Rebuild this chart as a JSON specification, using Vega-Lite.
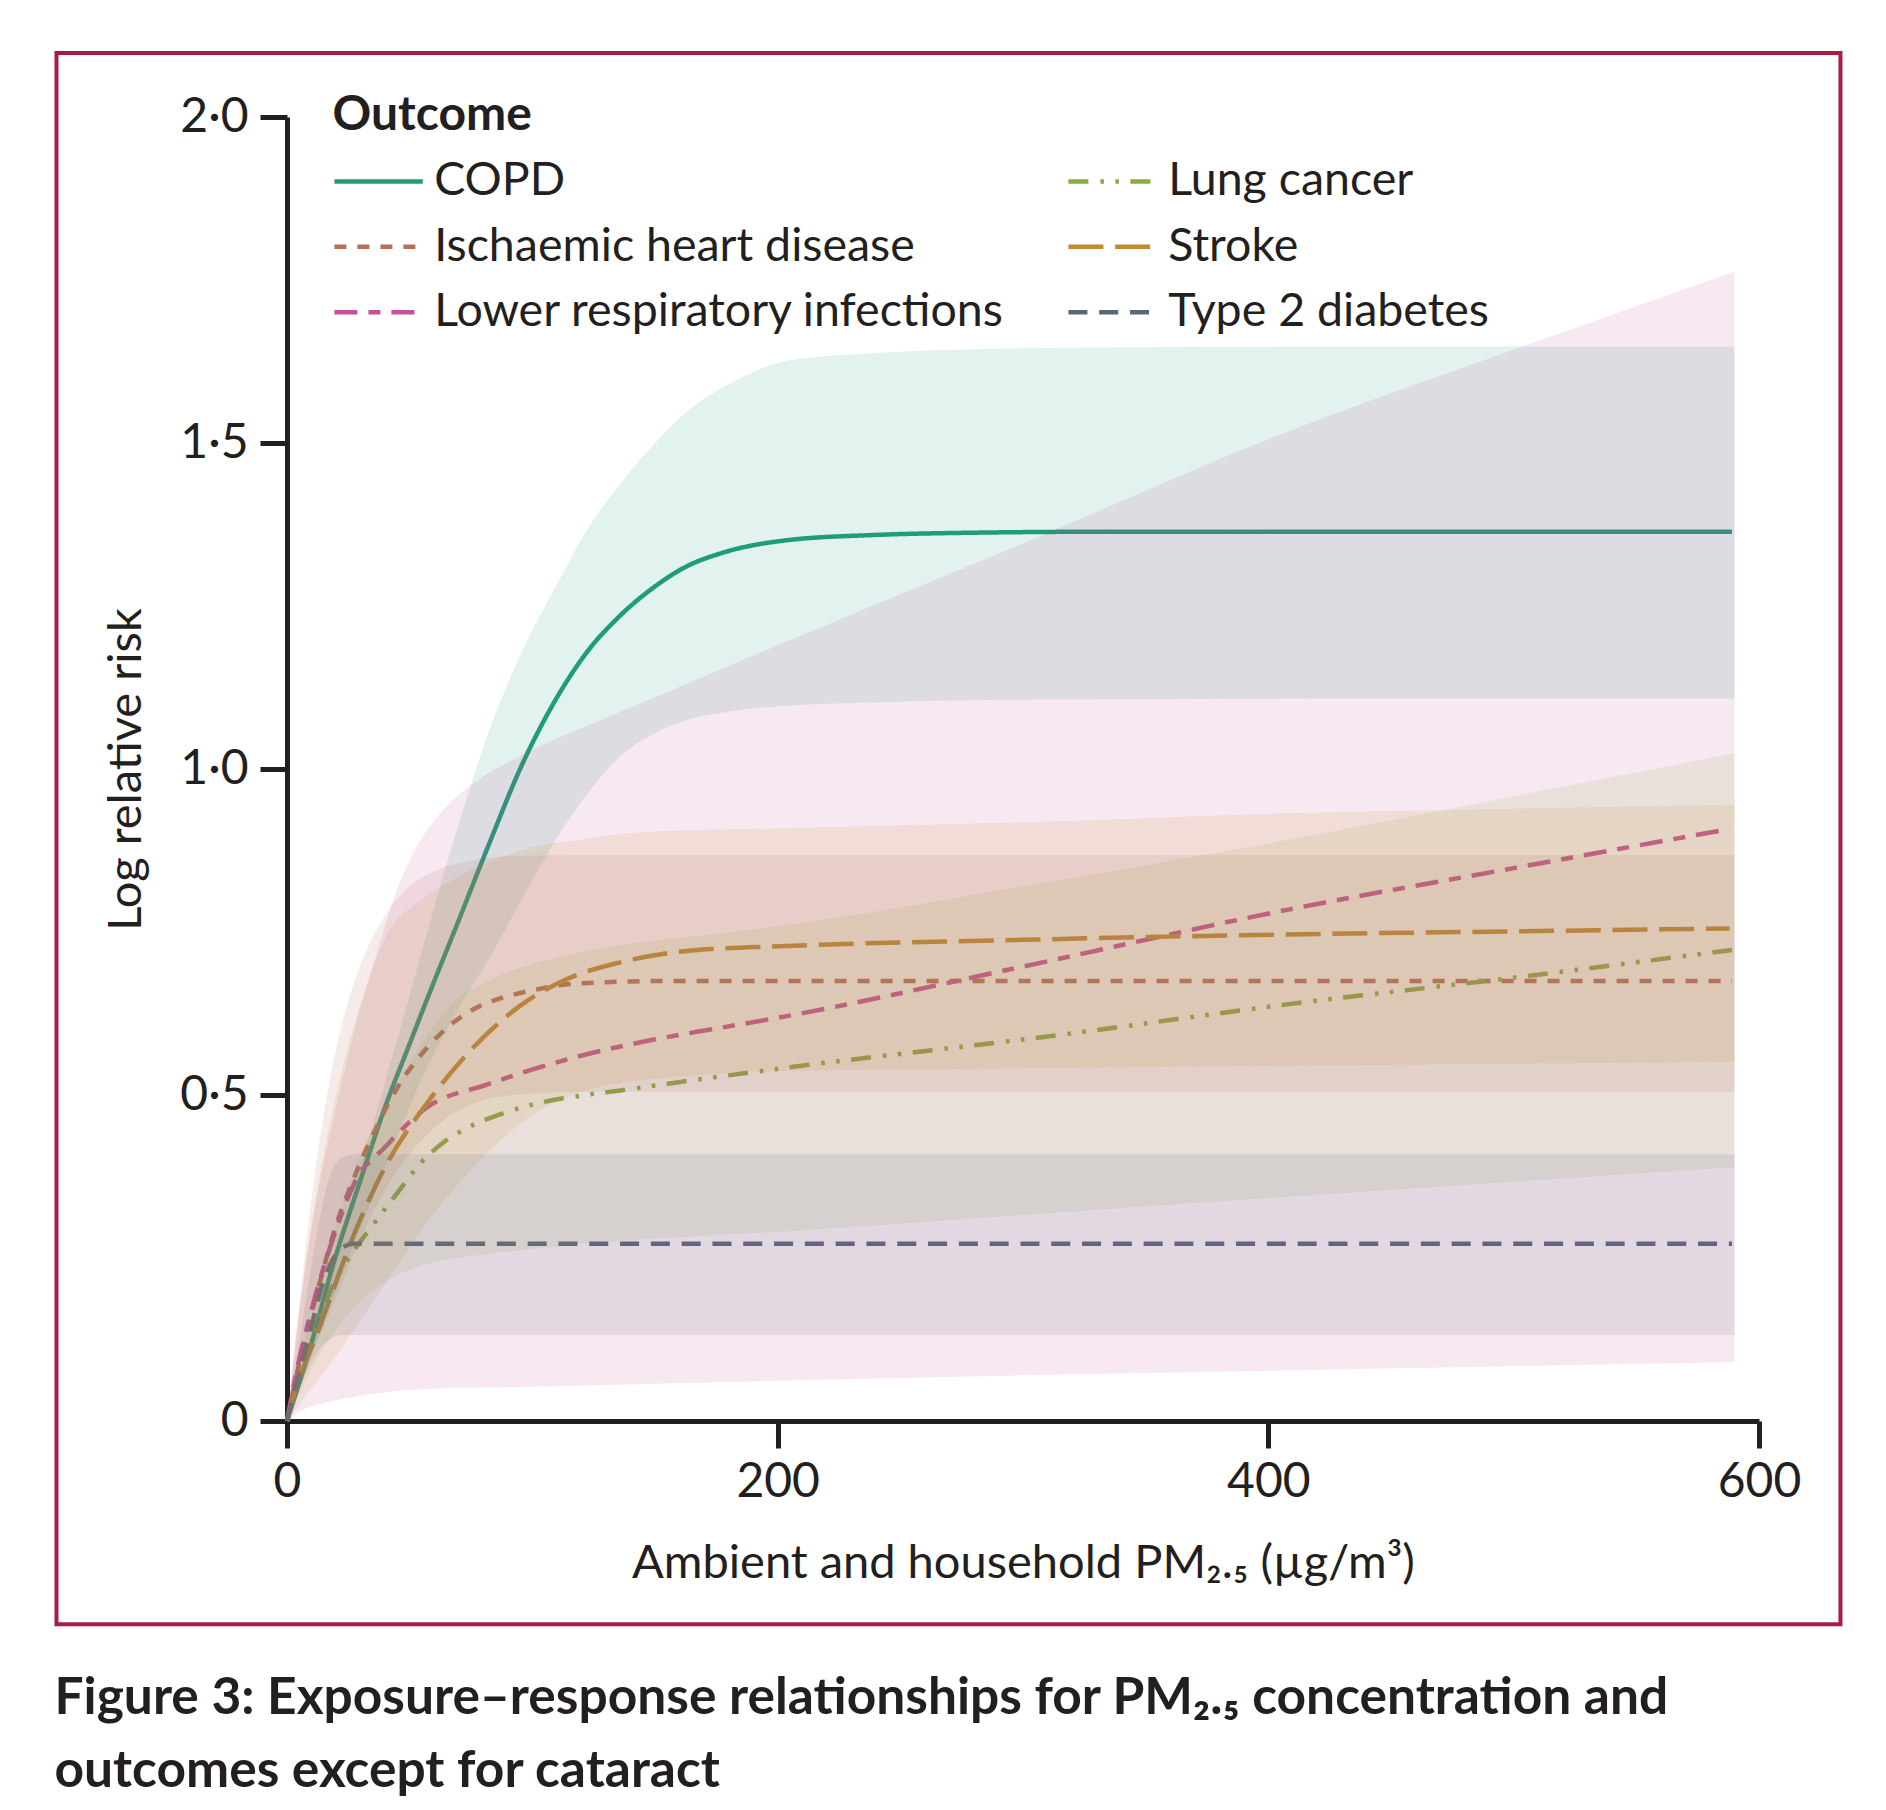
{
  "$schema": "https://vega.github.io/schema/vega-lite/v6.json",
  "width": 1472,
  "height": 1304,
  "autosize": {"type": "none"},
  "padding": {"left": 287, "top": 117, "right": 127, "bottom": 389},
  "background": "white",
  "config": {
    "view": {"stroke": null},
    "font": "Lato",
    "axis": {
      "domainColor": "#231f20", "domainWidth": 5, "tickColor": "#231f20", "tickWidth": 5, "tickSize": 27,
      "labelFont": "Lato", "labelFontSize": 48, "labelColor": "#231f20",
      "titleFont": "Lato", "titleFontSize": 47, "titleFontWeight": "normal", "titleColor": "#231f20",
      "grid": false, "labelFlush": false, "labelOverlap": false
    }
  },
  "title": {
    "text": ["Figure 3: Exposure–response relationships for PM₂.₅ concentration and", "outcomes except for cataract"],
    "orient": "bottom", "anchor": "start", "frame": "bounds",
    "font": "Lato", "fontSize": 51.5, "fontWeight": "bold", "color": "#231f20",
    "baseline": "top", "offset": 47, "lineHeight": 73
  },
  "datasets": {
    "lines": [
      {"outcome":"COPD","x":0,"y":0},{"outcome":"COPD","x":10,"y":0.12},{"outcome":"COPD","x":19,"y":0.242},{"outcome":"COPD","x":30,"y":0.37},{"outcome":"COPD","x":41,"y":0.492},{"outcome":"COPD","x":49,"y":0.569},{"outcome":"COPD","x":57,"y":0.646},{"outcome":"COPD","x":70,"y":0.768},{"outcome":"COPD","x":83,"y":0.891},{"outcome":"COPD","x":95,"y":1.0},{"outcome":"COPD","x":109,"y":1.103},{"outcome":"COPD","x":122,"y":1.178},{"outcome":"COPD","x":136,"y":1.236},{"outcome":"COPD","x":150,"y":1.28},{"outcome":"COPD","x":163,"y":1.311},{"outcome":"COPD","x":177,"y":1.331},{"outcome":"COPD","x":204,"y":1.351},{"outcome":"COPD","x":240,"y":1.359},{"outcome":"COPD","x":272,"y":1.362},{"outcome":"COPD","x":340,"y":1.364},{"outcome":"COPD","x":589,"y":1.364},
      {"outcome":"Ischaemic heart disease","x":0,"y":0},{"outcome":"Ischaemic heart disease","x":5.4,"y":0.095},{"outcome":"Ischaemic heart disease","x":13.6,"y":0.216},{"outcome":"Ischaemic heart disease","x":20,"y":0.3},{"outcome":"Ischaemic heart disease","x":27.2,"y":0.372},{"outcome":"Ischaemic heart disease","x":35.3,"y":0.441},{"outcome":"Ischaemic heart disease","x":44.8,"y":0.51},{"outcome":"Ischaemic heart disease","x":57,"y":0.572},{"outcome":"Ischaemic heart disease","x":65.2,"y":0.603},{"outcome":"Ischaemic heart disease","x":73.4,"y":0.626},{"outcome":"Ischaemic heart disease","x":82.9,"y":0.643},{"outcome":"Ischaemic heart disease","x":92.4,"y":0.654},{"outcome":"Ischaemic heart disease","x":103.3,"y":0.663},{"outcome":"Ischaemic heart disease","x":112.8,"y":0.669},{"outcome":"Ischaemic heart disease","x":130,"y":0.673},{"outcome":"Ischaemic heart disease","x":160,"y":0.675},{"outcome":"Ischaemic heart disease","x":589,"y":0.675},
      {"outcome":"Lower respiratory infections","x":0,"y":0},{"outcome":"Lower respiratory infections","x":2.7,"y":0.054},{"outcome":"Lower respiratory infections","x":10,"y":0.17},{"outcome":"Lower respiratory infections","x":17.7,"y":0.268},{"outcome":"Lower respiratory infections","x":28.5,"y":0.372},{"outcome":"Lower respiratory infections","x":39.4,"y":0.418},{"outcome":"Lower respiratory infections","x":57,"y":0.481},{"outcome":"Lower respiratory infections","x":81.5,"y":0.516},{"outcome":"Lower respiratory infections","x":115.5,"y":0.556},{"outcome":"Lower respiratory infections","x":149.5,"y":0.585},{"outcome":"Lower respiratory infections","x":176.6,"y":0.603},{"outcome":"Lower respiratory infections","x":203.8,"y":0.621},{"outcome":"Lower respiratory infections","x":300,"y":0.697},{"outcome":"Lower respiratory infections","x":407.6,"y":0.784},{"outcome":"Lower respiratory infections","x":500,"y":0.848},{"outcome":"Lower respiratory infections","x":588,"y":0.908},
      {"outcome":"Lung cancer","x":0,"y":0},{"outcome":"Lung cancer","x":4,"y":0.054},{"outcome":"Lung cancer","x":10,"y":0.12},{"outcome":"Lung cancer","x":19,"y":0.21},{"outcome":"Lung cancer","x":27,"y":0.26},{"outcome":"Lung cancer","x":35.3,"y":0.302},{"outcome":"Lung cancer","x":45,"y":0.35},{"outcome":"Lung cancer","x":54.3,"y":0.395},{"outcome":"Lung cancer","x":64,"y":0.428},{"outcome":"Lung cancer","x":74.7,"y":0.452},{"outcome":"Lung cancer","x":88,"y":0.472},{"outcome":"Lung cancer","x":101.9,"y":0.487},{"outcome":"Lung cancer","x":118,"y":0.498},{"outcome":"Lung cancer","x":135.9,"y":0.507},{"outcome":"Lung cancer","x":169.8,"y":0.525},{"outcome":"Lung cancer","x":203.8,"y":0.542},{"outcome":"Lung cancer","x":312.5,"y":0.591},{"outcome":"Lung cancer","x":407.6,"y":0.639},{"outcome":"Lung cancer","x":500,"y":0.68},{"outcome":"Lung cancer","x":589,"y":0.7225},
      {"outcome":"Stroke","x":0,"y":0},{"outcome":"Stroke","x":2.7,"y":0.037},{"outcome":"Stroke","x":13.6,"y":0.147},{"outcome":"Stroke","x":27.2,"y":0.285},{"outcome":"Stroke","x":40.8,"y":0.395},{"outcome":"Stroke","x":57,"y":0.487},{"outcome":"Stroke","x":74.7,"y":0.568},{"outcome":"Stroke","x":95.1,"y":0.637},{"outcome":"Stroke","x":115.5,"y":0.68},{"outcome":"Stroke","x":135.9,"y":0.7035},{"outcome":"Stroke","x":163,"y":0.721},{"outcome":"Stroke","x":203.8,"y":0.7285},{"outcome":"Stroke","x":300,"y":0.738},{"outcome":"Stroke","x":403,"y":0.746},{"outcome":"Stroke","x":500,"y":0.751},{"outcome":"Stroke","x":588,"y":0.7555},
      {"outcome":"Type 2 diabetes","x":0,"y":0},{"outcome":"Type 2 diabetes","x":8,"y":0.115},{"outcome":"Type 2 diabetes","x":15,"y":0.215},{"outcome":"Type 2 diabetes","x":19,"y":0.25},{"outcome":"Type 2 diabetes","x":23,"y":0.267},{"outcome":"Type 2 diabetes","x":27,"y":0.272},{"outcome":"Type 2 diabetes","x":35,"y":0.272},{"outcome":"Type 2 diabetes","x":589,"y":0.272}
    ],
    "bands": [
      {"outcome":"COPD","x":0,"lo":0,"hi":0},{"outcome":"COPD","x":20,"lo":0.2,"hi":0.26},{"outcome":"COPD","x":40,"lo":0.39,"hi":0.52},{"outcome":"COPD","x":55,"lo":0.525,"hi":0.72},{"outcome":"COPD","x":68,"lo":0.62,"hi":0.891},{"outcome":"COPD","x":84,"lo":0.72,"hi":1.075},{"outcome":"COPD","x":97,"lo":0.81,"hi":1.19},{"outcome":"COPD","x":111,"lo":0.9,"hi":1.29},{"outcome":"COPD","x":122,"lo":0.96,"hi":1.365},{"outcome":"COPD","x":136,"lo":1.02,"hi":1.438},{"outcome":"COPD","x":150,"lo":1.055,"hi":1.5},{"outcome":"COPD","x":163,"lo":1.075,"hi":1.548},{"outcome":"COPD","x":180,"lo":1.088,"hi":1.59},{"outcome":"COPD","x":204,"lo":1.097,"hi":1.626},{"outcome":"COPD","x":240,"lo":1.102,"hi":1.638},{"outcome":"COPD","x":272,"lo":1.105,"hi":1.643},{"outcome":"COPD","x":340,"lo":1.107,"hi":1.647},{"outcome":"COPD","x":450,"lo":1.108,"hi":1.648},{"outcome":"COPD","x":590,"lo":1.108,"hi":1.648},
      {"outcome":"Ischaemic heart disease","x":0,"lo":0,"hi":0},{"outcome":"Ischaemic heart disease","x":5,"lo":0.05,"hi":0.18},{"outcome":"Ischaemic heart disease","x":10,"lo":0.1,"hi":0.34},{"outcome":"Ischaemic heart disease","x":15,"lo":0.145,"hi":0.47},{"outcome":"Ischaemic heart disease","x":20,"lo":0.19,"hi":0.57},{"outcome":"Ischaemic heart disease","x":30,"lo":0.28,"hi":0.7},{"outcome":"Ischaemic heart disease","x":40,"lo":0.355,"hi":0.775},{"outcome":"Ischaemic heart disease","x":50,"lo":0.41,"hi":0.82},{"outcome":"Ischaemic heart disease","x":61,"lo":0.453,"hi":0.845},{"outcome":"Ischaemic heart disease","x":76,"lo":0.487,"hi":0.86},{"outcome":"Ischaemic heart disease","x":95,"lo":0.501,"hi":0.867},{"outcome":"Ischaemic heart disease","x":120,"lo":0.505,"hi":0.868},{"outcome":"Ischaemic heart disease","x":200,"lo":0.505,"hi":0.868},{"outcome":"Ischaemic heart disease","x":590,"lo":0.505,"hi":0.868},
      {"outcome":"Lower respiratory infections","x":0,"lo":0,"hi":0},{"outcome":"Lower respiratory infections","x":5,"lo":0.014,"hi":0.17},{"outcome":"Lower respiratory infections","x":13.6,"lo":0.026,"hi":0.37},{"outcome":"Lower respiratory infections","x":20,"lo":0.032,"hi":0.48},{"outcome":"Lower respiratory infections","x":27.2,"lo":0.037,"hi":0.595},{"outcome":"Lower respiratory infections","x":36,"lo":0.042,"hi":0.71},{"outcome":"Lower respiratory infections","x":44.8,"lo":0.046,"hi":0.815},{"outcome":"Lower respiratory infections","x":52,"lo":0.048,"hi":0.875},{"outcome":"Lower respiratory infections","x":62,"lo":0.05,"hi":0.93},{"outcome":"Lower respiratory infections","x":75,"lo":0.051,"hi":0.975},{"outcome":"Lower respiratory infections","x":95,"lo":0.052,"hi":1.02},{"outcome":"Lower respiratory infections","x":128,"lo":0.055,"hi":1.075},{"outcome":"Lower respiratory infections","x":150,"lo":0.057,"hi":1.11},{"outcome":"Lower respiratory infections","x":204,"lo":0.062,"hi":1.196},{"outcome":"Lower respiratory infections","x":300,"lo":0.07,"hi":1.346},{"outcome":"Lower respiratory infections","x":407.6,"lo":0.0775,"hi":1.517},{"outcome":"Lower respiratory infections","x":500,"lo":0.084,"hi":1.643},{"outcome":"Lower respiratory infections","x":590,"lo":0.09,"hi":1.763},
      {"outcome":"Lung cancer","x":0,"lo":0,"hi":0},{"outcome":"Lung cancer","x":10,"lo":0.08,"hi":0.16},{"outcome":"Lung cancer","x":20,"lo":0.14,"hi":0.3},{"outcome":"Lung cancer","x":30,"lo":0.185,"hi":0.41},{"outcome":"Lung cancer","x":40.8,"lo":0.215,"hi":0.487},{"outcome":"Lung cancer","x":55,"lo":0.239,"hi":0.58},{"outcome":"Lung cancer","x":68,"lo":0.249,"hi":0.643},{"outcome":"Lung cancer","x":82,"lo":0.256,"hi":0.675},{"outcome":"Lung cancer","x":95,"lo":0.262,"hi":0.695},{"outcome":"Lung cancer","x":115,"lo":0.27,"hi":0.715},{"outcome":"Lung cancer","x":136,"lo":0.2765,"hi":0.73},{"outcome":"Lung cancer","x":170,"lo":0.284,"hi":0.745},{"outcome":"Lung cancer","x":204,"lo":0.291,"hi":0.761},{"outcome":"Lung cancer","x":300,"lo":0.316,"hi":0.82},{"outcome":"Lung cancer","x":407.6,"lo":0.344,"hi":0.891},{"outcome":"Lung cancer","x":500,"lo":0.367,"hi":0.958},{"outcome":"Lung cancer","x":590,"lo":0.389,"hi":1.0245},
      {"outcome":"Stroke","x":0,"lo":0,"hi":0},{"outcome":"Stroke","x":10,"lo":0.05,"hi":0.3},{"outcome":"Stroke","x":20,"lo":0.1,"hi":0.5},{"outcome":"Stroke","x":30,"lo":0.155,"hi":0.64},{"outcome":"Stroke","x":40,"lo":0.21,"hi":0.74},{"outcome":"Stroke","x":55,"lo":0.295,"hi":0.8},{"outcome":"Stroke","x":69,"lo":0.36,"hi":0.833},{"outcome":"Stroke","x":84,"lo":0.42,"hi":0.86},{"outcome":"Stroke","x":99,"lo":0.467,"hi":0.879},{"outcome":"Stroke","x":120,"lo":0.505,"hi":0.892},{"outcome":"Stroke","x":138,"lo":0.52,"hi":0.901},{"outcome":"Stroke","x":150,"lo":0.525,"hi":0.904},{"outcome":"Stroke","x":204,"lo":0.537,"hi":0.909},{"outcome":"Stroke","x":275,"lo":0.54,"hi":0.916},{"outcome":"Stroke","x":300,"lo":0.541,"hi":0.918},{"outcome":"Stroke","x":407.6,"lo":0.545,"hi":0.932},{"outcome":"Stroke","x":500,"lo":0.548,"hi":0.939},{"outcome":"Stroke","x":590,"lo":0.551,"hi":0.945},
      {"outcome":"Type 2 diabetes","x":0,"lo":0,"hi":0},{"outcome":"Type 2 diabetes","x":5,"lo":0.05,"hi":0.12},{"outcome":"Type 2 diabetes","x":10,"lo":0.09,"hi":0.24},{"outcome":"Type 2 diabetes","x":15,"lo":0.118,"hi":0.34},{"outcome":"Type 2 diabetes","x":19,"lo":0.129,"hi":0.39},{"outcome":"Type 2 diabetes","x":23,"lo":0.132,"hi":0.405},{"outcome":"Type 2 diabetes","x":28,"lo":0.132,"hi":0.409},{"outcome":"Type 2 diabetes","x":100,"lo":0.132,"hi":0.409},{"outcome":"Type 2 diabetes","x":590,"lo":0.132,"hi":0.409}
    ]
  },
  "layer": [
    {
      "data": {"name": "lines"},
      "mark": {"type": "line", "interpolate": "monotone", "strokeWidth": 4.5},
      "encoding": {
        "x": {
          "field": "x", "type": "quantitative",
          "scale": {"domain": [0, 600], "nice": false, "zero": false},
          "axis": {"values": [0, 200, 400, 600], "labelPadding": 10, "title": "Ambient and household PM₂.₅ (µg/m³)", "titleBaseline": "alphabetic", "titleY": 156}
        },
        "y": {
          "field": "y", "type": "quantitative",
          "scale": {"domain": [0, 2], "nice": false, "zero": false},
          "axis": {"values": [0, 0.5, 1, 1.5, 2], "labelPadding": 12, "labelExpr": "datum.value == 0 ? '0' : replace(format(datum.value, '.1f'), '.', '·')", "title": "Log relative risk", "titleBaseline": "alphabetic", "titleX": -147}
        },
        "color": {
          "field": "outcome", "type": "nominal",
          "scale": {
            "domain": ["COPD", "Ischaemic heart disease", "Lower respiratory infections", "Lung cancer", "Stroke", "Type 2 diabetes"],
            "range": ["#1f9d7a", "#b5705a", "#c9509a", "#8aab42", "#c08a2e", "#55697a"]
          },
          "legend": {
            "title": "Outcome", "orient": "none", "legendX": 45.5, "legendY": -25, "columns": 2, "columnPadding": 53, "rowPadding": 18.5, "titlePadding": 18,
            "symbolType": "M-1,0H7", "symbolSize": 488, "symbolStrokeWidth": 4.5, "symbolOffset": -10.3, "labelOffset": 65.5, "labelLimit": 2000, "titleLimit": 2000,
            "labelFont": "Lato", "labelFontSize": 46.5, "labelColor": "#231f20", "titleFont": "Lato", "titleFontSize": 48, "titleFontWeight": "bold", "titleColor": "#231f20", "padding": 0
          }
        },
        "strokeDash": {
          "field": "outcome", "type": "nominal",
          "scale": {
            "domain": ["COPD", "Ischaemic heart disease", "Lower respiratory infections", "Lung cancer", "Stroke", "Type 2 diabetes"],
            "range": [[1, 0], [12, 11], [23, 11, 12, 11], [20, 12, 3.5, 11.5, 3.5, 11.5], [35, 11.7], [19, 11.8]]
          },
          "legend": {
            "title": "Outcome", "orient": "none", "legendX": 45.5, "legendY": -25, "columns": 2, "columnPadding": 53, "rowPadding": 18.5, "titlePadding": 18,
            "symbolType": "M-1,0H7", "symbolSize": 488, "symbolStrokeWidth": 4.5, "symbolOffset": -10.3, "labelOffset": 65.5, "labelLimit": 2000, "titleLimit": 2000,
            "labelFont": "Lato", "labelFontSize": 46.5, "labelColor": "#231f20", "titleFont": "Lato", "titleFontSize": 48, "titleFontWeight": "bold", "titleColor": "#231f20", "padding": 0
          }
        }
      }
    },
    {
      "data": {"name": "bands"},
      "mark": {"type": "area", "interpolate": "monotone", "fillOpacity": 0.13},
      "encoding": {
        "x": {"field": "x", "type": "quantitative"},
        "y": {"field": "lo", "type": "quantitative", "stack": null},
        "y2": {"field": "hi"},
        "fill": {
          "field": "outcome", "type": "nominal", "legend": null,
          "scale": {
            "domain": ["Type 2 diabetes", "COPD", "Ischaemic heart disease", "Lower respiratory infections", "Lung cancer", "Stroke"],
            "range": ["#55697a", "#1f9d7a", "#b5705a", "#c9509a", "#8aab42", "#c08a2e"]
          }
        }
      }
    },
    {
      "data": {"values": [{}]},
      "mark": {"type": "rect", "fill": null, "stroke": "#a51d42", "strokeWidth": 4},
      "encoding": {
        "x": {"datum": -93.96, "type": "quantitative"},
        "x2": {"datum": 633.2},
        "y": {"datum": 2.0982, "type": "quantitative"},
        "y2": {"datum": -0.3118}
      }
    }
  ]
}
